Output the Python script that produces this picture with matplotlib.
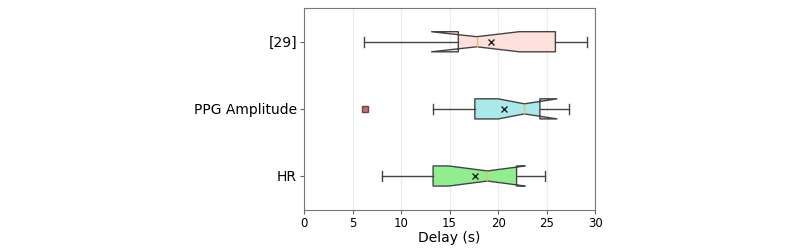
import matplotlib.pyplot as plt

labels = ["HR", "PPG Amplitude", "[29]"]
q1 = [13.3, 17.6, 15.9]
med = [18.9, 22.7, 17.8]
q3 = [21.9, 24.3, 25.9]
whislo = [8.0, 13.3, 6.2]
whishi = [24.8, 27.3, 29.2]
means = [17.6, 20.6, 19.3]
cilo = [14.9, 20.0, 13.1]
cihi = [22.8, 26.1, 22.2]
fliers = [[], [6.3], []]
colors = ["#90ee90", "#aae9ea", "#ffe0dc"]

stats = []
for i in range(len(labels)):
    stats.append(dict(label=labels[i], q1=q1[i], med=med[i], q3=q3[i],
                      whislo=whislo[i], whishi=whishi[i], mean=means[i],
                      cilo=cilo[i], cihi=cihi[i], fliers=fliers[i]))

fig = plt.figure(figsize=(8, 2.48), dpi=100)
ax = fig.add_axes([0.38, 0.155, 0.364, 0.812])
bp = ax.bxp(stats, orientation="horizontal", shownotches=True, patch_artist=True,
            showmeans=True, widths=0.3,
            boxprops=dict(edgecolor="#444444", linewidth=1),
            whiskerprops=dict(color="#444444", linewidth=1),
            capprops=dict(color="#444444", linewidth=1),
            medianprops=dict(color="#f5b27a", linewidth=1),
            meanprops=dict(marker="x", markeredgecolor="#222222", markersize=5),
            flierprops=dict(marker="s", markerfacecolor="#c07070",
                            markeredgecolor="#7a4040", markersize=4))
for patch, c in zip(bp["boxes"], colors):
    patch.set_facecolor(c)

ax.set_xlim(0, 30)
ax.set_ylim(0.5, 3.5)
ax.set_xticks([0, 5, 10, 15, 20, 25, 30])
ax.grid(axis="x", color="#ebebeb", linewidth=0.8)
ax.set_axisbelow(True)
ax.set_xlabel("Delay (s)", fontsize=10, labelpad=1)
ax.tick_params(axis="y", labelsize=10, color="#666666", length=3, pad=2)
ax.tick_params(axis="x", labelsize=8.5, color="#666666", length=3, pad=2)
for s in ax.spines.values():
    s.set_color("#777777")
fig.savefig("out.png")
